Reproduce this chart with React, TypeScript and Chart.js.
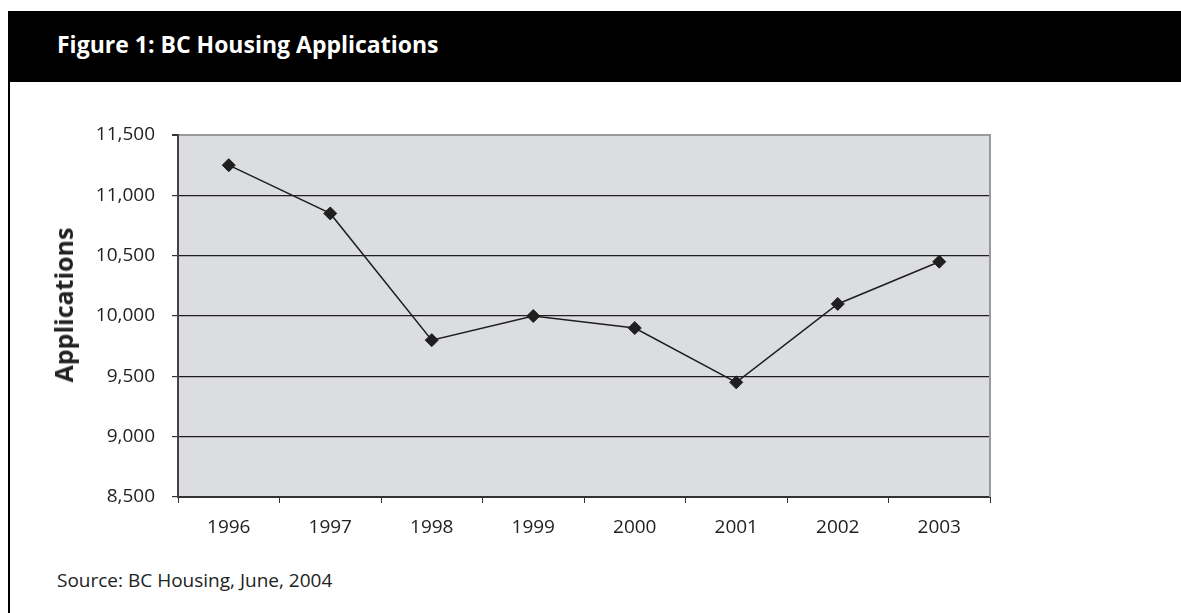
import React, { useEffect, useRef } from "react";
import { Chart, registerables } from "chart.js";

Chart.register(...registerables);

const YEARS = ["1996", "1997", "1998", "1999", "2000", "2001", "2002", "2003"];
const APPLICATIONS = [11250, 10850, 9800, 10000, 9900, 9450, 10100, 10450];
const Y_MIN = 8500;
const Y_MAX = 11500;
const Y_STEP = 500;

const TITLE = "Figure 1: BC Housing Applications";
const Y_TITLE = "Applications";
const SOURCE = "Source: BC Housing, June, 2004";

const FONT = "'Open Sans', 'DejaVu Sans', sans-serif";

const plotFrame = {
  id: "plotFrame",
  beforeDraw(chart: any) {
    const { ctx, chartArea } = chart;
    ctx.save();
    ctx.fillStyle = "#dcdde0";
    ctx.fillRect(chartArea.left, chartArea.top, chartArea.right - chartArea.left, chartArea.bottom - chartArea.top);
    ctx.restore();
  },
  afterDraw(chart: any) {
    const { ctx, chartArea } = chart;
    ctx.save();
    ctx.strokeStyle = "#999a9c";
    ctx.lineWidth = 2;
    ctx.beginPath();
    ctx.moveTo(chartArea.right, chartArea.top - 1);
    ctx.lineTo(chartArea.right, chartArea.bottom);
    ctx.stroke();
    ctx.restore();
  },
};

export default function App() {
  const ref = useRef<HTMLCanvasElement | null>(null);

  useEffect(() => {
    if (!ref.current) return;
    const chart = new Chart(ref.current, {
      type: "line",
      data: {
        labels: YEARS,
        datasets: [
          {
            data: APPLICATIONS,
            borderColor: "#1f1f1f",
            borderWidth: 1.5,
            pointStyle: "rectRot",
            pointRadius: 6.5,
            pointBorderWidth: 1,
            pointBackgroundColor: "#1f1f1f",
            pointBorderColor: "#1f1f1f",
            tension: 0,
          },
        ],
      },
      options: {
        animation: false,
        responsive: false,
        devicePixelRatio: 1,
        layout: { padding: { top: 51, right: 191, left: 0, bottom: 0 } },
        plugins: { legend: { display: false }, tooltip: { enabled: false } },
        font: { family: FONT },
        scales: {
          x: {
            offset: true,
            grid: {
              offset: true,
              drawOnChartArea: false,
              drawTicks: true,
              tickLength: 6,
              color: "#333",
              lineWidth: 1,
            },
            border: { color: "#333", width: 2 },
            ticks: { padding: 13, color: "#222", font: { family: FONT, size: 19 } },
            afterFit: (s: any) => {
              s.height = 67;
            },
          },
          y: {
            min: Y_MIN,
            max: Y_MAX,
            ticks: {
              stepSize: Y_STEP,
              padding: 17,
              color: "#222",
              font: { family: FONT, size: 19 },
              callback: (v: any) => Number(v).toLocaleString("en-US"),
            },
            grid: {
              color: (c: any) => (c.tick && c.tick.value === Y_MAX ? "#999a9c" : "#1e1e1e"),
              lineWidth: (c: any) => (c.tick && c.tick.value === Y_MAX ? 2 : 1.2),
              tickColor: "#333",
              tickLength: 6,
            },
            border: { color: "#444", width: 2 },
            afterFit: (s: any) => {
              s.width = 168;
            },
          },
        },
      } as any,
      plugins: [plotFrame],
    });
    return () => chart.destroy();
  }, []);

  return (
    <div
      style={{
        position: "absolute",
        left: 0,
        top: 0,
        width: 1181,
        height: 613,
        overflow: "hidden",
        background: "#fff",
        fontFamily: FONT,
      }}
    >
      <div
        style={{
          position: "absolute",
          left: 8,
          top: 11,
          width: 1173,
          height: 71,
          background: "#000",
        }}
      >
        <div
          style={{
            position: "absolute",
            left: 49,
            top: 0,
            lineHeight: "67px",
            fontSize: 23,
            fontWeight: "bold",
            color: "#fff",
            whiteSpace: "nowrap",
          }}
        >
          {TITLE}
        </div>
      </div>
      <div style={{ position: "absolute", left: 8, top: 82, width: 2, height: 531, background: "#000" }} />
      <canvas
        ref={ref}
        width={1171}
        height={480}
        style={{ position: "absolute", left: 10, top: 84, width: 1171, height: 480 }}
      />
      <div
        style={{
          position: "absolute",
          left: 63,
          top: 305,
          width: 0,
          height: 0,
        }}
      >
        <div
          style={{
            position: "absolute",
            left: 0,
            top: 0,
            transform: "translate(-50%, -50%) rotate(-90deg)",
            fontSize: 25,
            lineHeight: "30px",
            fontWeight: "bold",
            color: "#222",
            whiteSpace: "nowrap",
          }}
        >
          {Y_TITLE}
        </div>
      </div>
      <div
        style={{
          position: "absolute",
          left: 57,
          top: 568,
          lineHeight: "24px",
          fontSize: 19,
          color: "#222",
          whiteSpace: "nowrap",
        }}
      >
        {SOURCE}
      </div>
    </div>
  );
}
